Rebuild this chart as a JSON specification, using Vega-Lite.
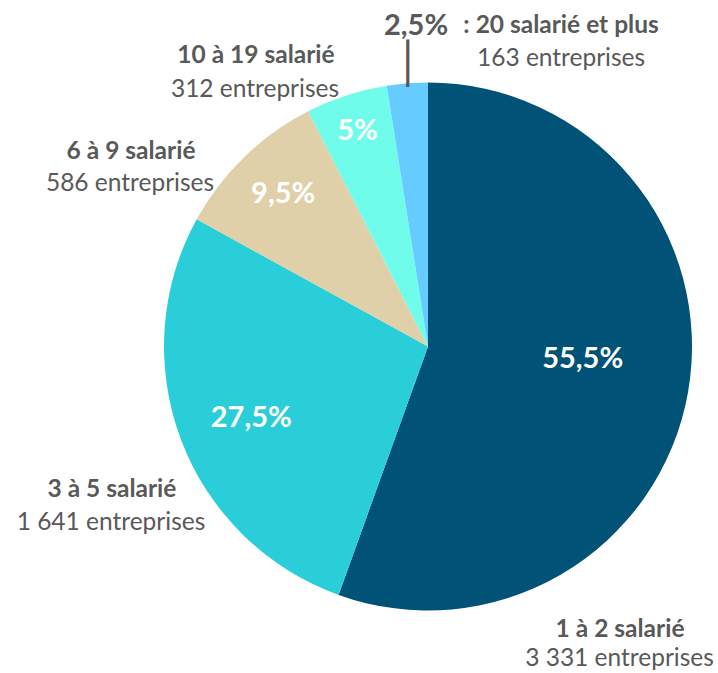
{
  "$schema": "https://vega.github.io/schema/vega-lite/v6.json",
  "width": 580,
  "height": 653,
  "autosize": "none",
  "padding": {"left": 138, "top": 20, "right": 0, "bottom": 0},
  "background": "white",
  "config": {"view": {"stroke": null}, "font": "Lato"},
  "data": {
    "values": [
      {"ord": 1, "cat": "1 à 2", "name": "1 à 2 salarié", "count": 3331, "countLabel": "3 331 entreprises", "pct": 55.5, "pctLabel": "55,5%"},
      {"ord": 2, "cat": "3 à 5", "name": "3 à 5 salarié", "count": 1641, "countLabel": "1 641 entreprises", "pct": 27.5, "pctLabel": "27,5%"},
      {"ord": 3, "cat": "6 à 9", "name": "6 à 9 salarié", "count": 586, "countLabel": "586 entreprises", "pct": 9.5, "pctLabel": "9,5%"},
      {"ord": 4, "cat": "10 à 19", "name": "10 à 19 salarié", "count": 312, "countLabel": "312 entreprises", "pct": 5, "pctLabel": "5%"},
      {"ord": 5, "cat": "20 et plus", "name": ": 20 salarié et plus", "count": 163, "countLabel": "163 entreprises", "pct": 2.5, "pctLabel": "2,5%"}
    ]
  },
  "encoding": {
    "theta": {"field": "pct", "type": "quantitative", "stack": true},
    "order": {"field": "ord", "type": "quantitative"}
  },
  "layer": [
    {
      "mark": {"type": "arc", "outerRadius": 264},
      "encoding": {
        "color": {
          "field": "cat", "type": "nominal", "legend": null,
          "scale": {"domain": ["1 à 2", "3 à 5", "6 à 9", "10 à 19", "20 et plus"],
                    "range": ["#005276", "#29CED8", "#E0D0AA", "#70FCEA", "#66CCFF"]}
        }
      }
    },
    {"mark": {"type": "text", "radius": 155, "dx": 2, "dy": -14, "font": "Lato", "fontSize": 29, "fontWeight": "bold", "color": "white", "align": "center", "baseline": "middle"},
     "encoding": {"text": {"condition": {"test": "datum.ord === 1", "field": "pctLabel"}, "value": ""}}},
    {"mark": {"type": "text", "radius": 190, "dx": 1, "dy": 4, "font": "Lato", "fontSize": 29, "fontWeight": "bold", "color": "white", "align": "center", "baseline": "middle"},
     "encoding": {"text": {"condition": {"test": "datum.ord === 2", "field": "pctLabel"}, "value": ""}}},
    {"mark": {"type": "text", "radius": 211, "dx": 2, "dy": -1, "font": "Lato", "fontSize": 29, "fontWeight": "bold", "color": "white", "align": "center", "baseline": "middle"},
     "encoding": {"text": {"condition": {"test": "datum.ord === 3", "field": "pctLabel"}, "value": ""}}},
    {"mark": {"type": "text", "radius": 228, "dx": 0, "dy": 1, "font": "Lato", "fontSize": 29, "fontWeight": "bold", "color": "white", "align": "center", "baseline": "middle"},
     "encoding": {"text": {"condition": {"test": "datum.ord === 4", "field": "pctLabel"}, "value": ""}}},
    {"mark": {"type": "text", "radius": 300, "dx": 11.6, "dy": -21.5, "font": "Lato", "fontSize": 29, "fontWeight": "bold", "color": "#595959", "align": "center", "baseline": "middle"},
     "encoding": {"text": {"condition": {"test": "datum.ord === 5", "field": "pctLabel"}, "value": ""}}},
    {"mark": {"type": "text", "radius": 300, "dx": -103.5, "dy": 231.5, "font": "Lato", "fontSize": 24.5, "fontWeight": "bold", "color": "#595959", "align": "center", "baseline": "middle"},
     "encoding": {"text": {"condition": {"test": "datum.ord === 1", "field": "name"}, "value": ""}}},
    {"mark": {"type": "text", "radius": 300, "dx": -104, "dy": 261, "font": "Lato", "fontSize": 24.5, "color": "#595959", "align": "center", "baseline": "middle"},
     "encoding": {"text": {"condition": {"test": "datum.ord === 1", "field": "countLabel"}, "value": ""}}},
    {"mark": {"type": "text", "radius": 300, "dx": -35.4, "dy": 37.9, "font": "Lato", "fontSize": 24.5, "fontWeight": "bold", "color": "#595959", "align": "center", "baseline": "middle"},
     "encoding": {"text": {"condition": {"test": "datum.ord === 2", "field": "name"}, "value": ""}}},
    {"mark": {"type": "text", "radius": 300, "dx": -36.4, "dy": 70.6, "font": "Lato", "fontSize": 24.5, "color": "#595959", "align": "center", "baseline": "middle"},
     "encoding": {"text": {"condition": {"test": "datum.ord === 2", "field": "countLabel"}, "value": ""}}},
    {"mark": {"type": "text", "radius": 300, "dx": -88.2, "dy": 21.4, "font": "Lato", "fontSize": 24.5, "fontWeight": "bold", "color": "#595959", "align": "center", "baseline": "middle"},
     "encoding": {"text": {"condition": {"test": "datum.ord === 3", "field": "name"}, "value": ""}}},
    {"mark": {"type": "text", "radius": 300, "dx": -89.2, "dy": 53.1, "font": "Lato", "fontSize": 24.5, "color": "#595959", "align": "center", "baseline": "middle"},
     "encoding": {"text": {"condition": {"test": "datum.ord === 3", "field": "countLabel"}, "value": ""}}},
    {"mark": {"type": "text", "radius": 300, "dx": -79.3, "dy": -5.4, "font": "Lato", "fontSize": 24.5, "fontWeight": "bold", "color": "#595959", "align": "center", "baseline": "middle"},
     "encoding": {"text": {"condition": {"test": "datum.ord === 4", "field": "name"}, "value": ""}}},
    {"mark": {"type": "text", "radius": 300, "dx": -80.3, "dy": 29.2, "font": "Lato", "fontSize": 24.5, "color": "#595959", "align": "center", "baseline": "middle"},
     "encoding": {"text": {"condition": {"test": "datum.ord === 4", "field": "countLabel"}, "value": ""}}},
    {"mark": {"type": "text", "radius": 300, "dx": 156.6, "dy": -21.6, "font": "Lato", "fontSize": 24.5, "fontWeight": "bold", "color": "#595959", "align": "center", "baseline": "middle"},
     "encoding": {"text": {"condition": {"test": "datum.ord === 5", "field": "name"}, "value": ""}}},
    {"mark": {"type": "text", "radius": 300, "dx": 156.6, "dy": 12, "font": "Lato", "fontSize": 24.5, "color": "#595959", "align": "center", "baseline": "middle"},
     "encoding": {"text": {"condition": {"test": "datum.ord === 5", "field": "countLabel"}, "value": ""}}},
    {"mark": {"type": "text", "radius": 282, "dx": 1.7, "dy": 0, "font": "DejaVu Sans Mono", "fontSize": 40, "color": "#595959", "align": "center", "baseline": "middle"},
     "encoding": {"text": {"condition": {"test": "datum.ord === 5", "value": "│"}, "value": ""}}}
  ]
}
